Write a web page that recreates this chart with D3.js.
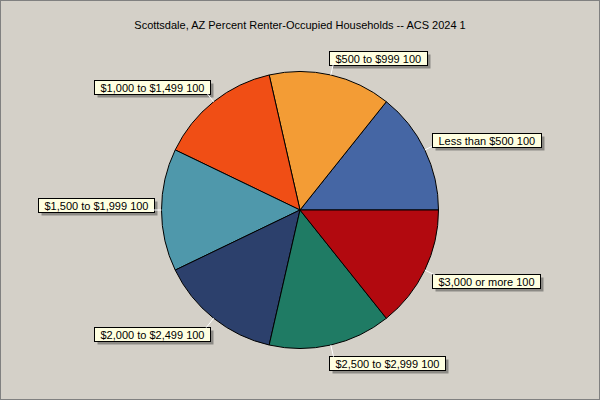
<!DOCTYPE html>
<html>
<head>
<meta charset="utf-8">
<script src="https://cdn.jsdelivr.net/npm/d3@7"></script>
<style>
  body{margin:0;padding:0;background:#d4d0c8;}
  svg{display:block;}
</style>
</head>
<body>
<div id="chart"></div>
<script>
var title = "Scottsdale, AZ Percent Renter-Occupied Households -- ACS 2024 1";
var categories = ["Less than $500","$500 to $999","$1,000 to $1,499","$1,500 to $1,999","$2,000 to $2,499","$2,500 to $2,999","$3,000 or more"];
var values = [100,100,100,100,100,100,100];
var colours = ["#4566a4","#f39c35","#f04e15","#4f98ab","#2c406c","#1f7b64","#b2090f"];

var width = 600, height = 400;
var cx = 300, cy = 210, radius = 138.5;

var svg = d3.select("#chart")
  .append("svg")
  .attr("width",width)
  .attr("height",height);

svg.append("rect")
  .attr("x",0.5).attr("y",0.5)
  .attr("width",width-1).attr("height",height-1)
  .attr("fill","#d4d0c8")
  .attr("stroke","#808080");

svg.append("text")
  .attr("x",300).attr("y",29)
  .attr("text-anchor","middle")
  .style("font-family","Liberation Sans, Arial, sans-serif")
  .style("font-size","11px")
  .style("fill","black")
  .text(title);

var data = categories.map(function(c,i){ return {name:c, value:values[i]}; });

// slices start at 3 o'clock and run counter-clockwise
var pie = d3.pie()
  .sort(null)
  .value(function(d){ return d.value; })
  .startAngle(Math.PI/2)
  .endAngle(Math.PI/2 - 2*Math.PI);

var arc = d3.arc().innerRadius(0).outerRadius(radius);

var g = svg.append("g")
  .attr("transform","translate(" + cx + "," + cy + ")");

var arcs = pie(data);

g.selectAll("path.slice")
  .data(arcs)
  .enter()
  .append("path")
  .attr("class","slice")
  .attr("d",arc)
  .attr("fill",function(d,i){ return colours[i]; })
  .attr("stroke","black")
  .attr("stroke-width",1);

// labels
function midPoint(d,r){
  var a = (d.startAngle + d.endAngle)/2;
  return [Math.sin(a)*r, -Math.cos(a)*r];
}

var labels = svg.append("g").attr("class","labels");

arcs.forEach(function(d,i){
  var p0 = midPoint(d,radius);
  var p1 = midPoint(d,radius+12);
  var x0 = cx+p0[0], y0 = cy+p0[1], x1 = cx+p1[0], y1 = cy+p1[1];

  labels.append("line")
    .attr("x1",x0).attr("y1",y0)
    .attr("x2",x1).attr("y2",y1)
    .attr("stroke","white")
    .attr("stroke-width",1);

  var txt = d.data.name + " " + d.data.value;
  var t = labels.append("text")
    .style("font-family","Liberation Sans, Arial, sans-serif")
    .style("font-size","11px")
    .style("fill","black")
    .text(txt);
  var tw = t.node().getComputedTextLength();
  var bw = Math.round(tw + 12), bh = 14;

  var right = p1[0] > 0;
  var upper = p1[1] < 0.5;
  var bx = right ? Math.round(x1) - 4 : Math.round(x1) + 4 - bw;
  var by = upper ? Math.round(y1) + 2 - bh : Math.round(y1) - 1;

  labels.insert("rect","text")
    .attr("x",bx+3.5).attr("y",by+3.5)
    .attr("width",bw).attr("height",bh)
    .attr("fill","#8c8a85");
  labels.insert("rect","text")
    .attr("x",bx+0.5).attr("y",by+0.5)
    .attr("width",bw).attr("height",bh)
    .attr("fill","#ffffe1")
    .attr("stroke","black");

  t.attr("x",bx+6.5).attr("y",by+11.5);
});
</script>
</body>
</html>
